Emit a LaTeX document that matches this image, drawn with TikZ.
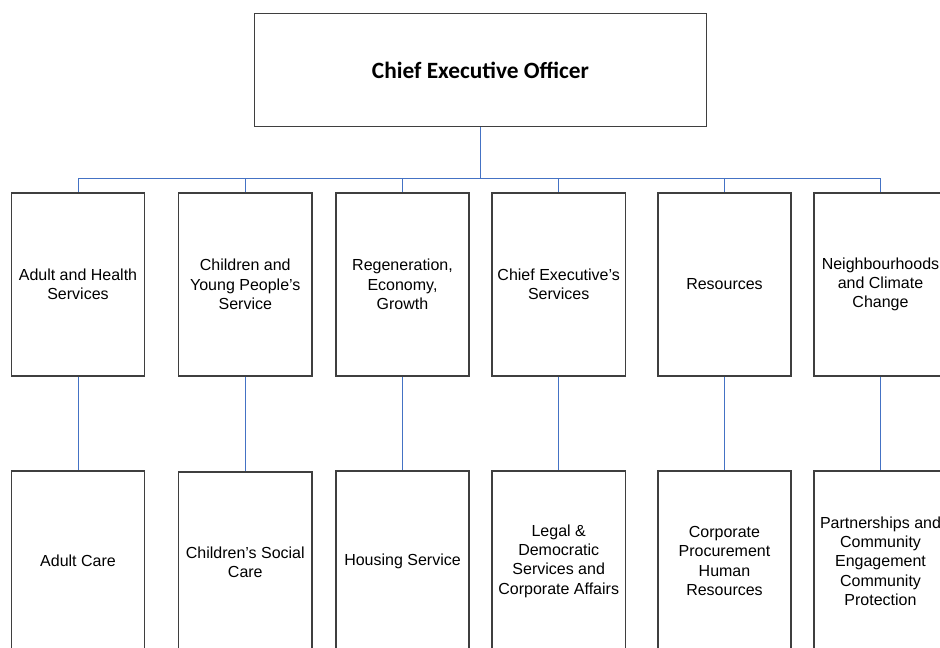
\documentclass[tikz,border=0pt]{standalone}
\usepackage{fontspec}
\setmainfont{Liberation Sans}
\newfontfamily\ceofont{Carlito}
\definecolor{linkblue}{HTML}{4472C4}
\definecolor{boxgray}{HTML}{3F3F3F}
\begin{document}
\begin{tikzpicture}[x=0.75pt,y=-0.75pt,
    orgbox/.style={draw=boxgray,line width=1.1pt,fill=white,align=center,
      minimum width=100pt,minimum height=137pt,inner sep=2pt,
      font=\fontsize{12}{14.5}\selectfont},
    leafbox/.style={orgbox,minimum height=135pt},
    ceobox/.style={draw=boxgray,line width=1.1pt,minimum width=339pt,minimum height=85pt,
      font=\ceofont\bfseries\fontsize{17.5}{21}\selectfont},
    link/.style={draw=linkblue,line width=0.75pt}]
  \clip (0,0) rectangle (940,648);
  \fill[white] (0,0) rectangle (940,648);

  \node[ceobox] (ceo) at (480.5,70) {Chief Executive Officer};
  \coordinate (bus) at (480.5,179);

  \node[orgbox] (ahs) at (78,284.5) {Adult and Health\\Services};
  \node[orgbox] (cyp) at (245.3,284.5) {Children and\\Young People's\\Service};
  \node[orgbox] (reg) at (402.5,284.5) {Regeneration,\\Economy,\\Growth};
  \node[orgbox] (ces) at (558.7,284.5) {Chief Executive's\\Services};
  \node[orgbox] (res) at (724.5,284.5) {Resources};
  \node[orgbox] (ncc) at (880.5,284.5) {Neighbourhoods\\and Climate\\Change};

  \node[leafbox] (ac) at (78,561) {Adult Care};
  \node[leafbox] (csc) at (245.3,562) {Children's Social\\Care};
  \node[leafbox] (hs) at (402.5,561) {Housing Service};
  \node[leafbox] (lds) at (558.7,561) {Legal \&\\Democratic\\Services and\\Corporate Affairs};
  \node[leafbox] (cph) at (724.5,561) {Corporate\\Procurement\\Human\\Resources};
  \node[leafbox] (pce) at (880.5,561) {Partnerships and\\Community\\Engagement\\Community\\Protection};

  \draw[link] (ceo.south) -- (bus);
  \foreach \n in {ahs,cyp,reg,ces,res,ncc}
    \draw[link] (bus) -| (\n.north);
  \foreach \a/\b in {ahs/ac,cyp/csc,reg/hs,ces/lds,res/cph,ncc/pce}
    \draw[link] (\a.south) -- (\b.north);
\end{tikzpicture}
\end{document}
